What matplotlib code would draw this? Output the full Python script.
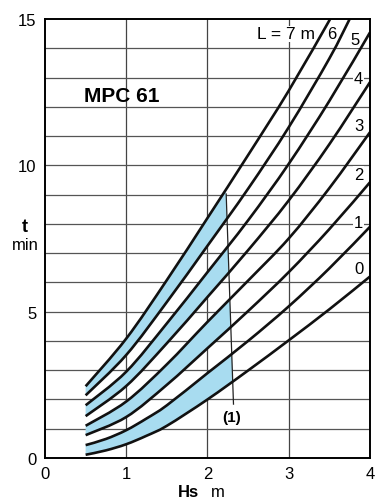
import matplotlib.pyplot as plt
import numpy as np
from matplotlib.patches import Polygon, PathPatch
from matplotlib.path import Path

plt.rcParams['font.family'] = ['Liberation Sans', 'DejaVu Sans']

# Hs (m) and time t (min), one curve per pipe length L
hs_01 = [0.5, 0.75, 1.0, 1.25, 1.5, 2.0, 2.5, 3.0, 3.5, 4.0]
t_L0 = [0.11, 0.26, 0.47, 0.76, 1.1, 2.0, 2.99, 4.02, 5.08, 6.2]
t_L1 = [0.44, 0.65, 0.95, 1.35, 1.8, 2.9, 4.0, 5.18, 6.48, 7.9]

hs_25 = [0.5, 1.0, 1.5, 2.0, 2.5, 3.0, 3.5, 4.0]
t_L2 = [0.78, 1.4, 2.5, 3.75, 5.02, 6.35, 7.82, 9.42]
t_L3 = [1.1, 1.93, 3.2, 4.65, 6.06, 7.5, 9.22, 11.13]
t_L4 = [1.43, 2.46, 3.92, 5.5, 7.1, 8.8, 10.72, 12.84]
t_L5 = [1.8, 2.95, 4.6, 6.35, 8.12, 10.05, 12.2, 14.54]

hs_6 = [0.5, 1.0, 1.5, 2.0, 2.5, 3.0, 3.5, 3.75]
t_L6 = [2.14, 3.52, 5.33, 7.25, 9.2, 11.3, 13.65, 15.0]
hs_7 = [0.5, 1.0, 1.5, 2.0, 2.5, 3.0, 3.51]
t_L7 = [2.45, 4.08, 6.08, 8.2, 10.35, 12.55, 15.0]

# limit line (1)
line1_hs = [2.23, 2.32]
line1_t = [9.02, 1.84]

curves = [(hs_01, t_L0), (hs_01, t_L1), (hs_25, t_L2), (hs_25, t_L3),
          (hs_25, t_L4), (hs_25, t_L5), (hs_6, t_L6), (hs_7, t_L7)]
label_txt = ['0', '1', '2', '3', '4', '5']
label_pos = [(3.86, 6.46), (3.86, 8.06), (3.86, 9.7), (3.86, 11.35), (3.86, 12.95), (3.82, 14.3)]


def smooth_verts(xs, ys):
    # catmull-rom through the points, as cubic bezier vertices
    p = np.column_stack([xs, ys]).astype(float)
    ext = np.vstack([p[0], p, p[-1]])
    verts = [p[0]]
    for i in range(len(p) - 1):
        a, b, c, d = ext[i], ext[i + 1], ext[i + 2], ext[i + 3]
        verts += [b + (c - a) / 6, c - (d - b) / 6, c]
    return verts


fig = plt.figure(figsize=(3.86, 5.02), dpi=100)
ax = fig.add_axes([0.1166, 0.0857, 0.8419, 0.8745])
ax.set_xlim(0, 4)
ax.set_ylim(0, 15)

# grid
for xv in range(1, 4):
    ax.axvline(xv, color='#444444', lw=0.9, zorder=0)
for yv in range(1, 15):
    ax.axhline(yv, color='#555555', lw=0.9, zorder=0)

# shaded bands, clipped left of line (1)
slope = (line1_hs[1] - line1_hs[0]) / (line1_t[1] - line1_t[0])
x_at0 = line1_hs[1] + (0 - line1_t[1]) * slope
x_at15 = line1_hs[1] + (15 - line1_t[1]) * slope
clip = Polygon([(0, 0), (x_at0, 0), (x_at15, 15), (0, 15)], closed=True,
               transform=ax.transData, facecolor='none', edgecolor='none')
ax.add_patch(clip)
for lo, hi in [(0, 1), (2, 3), (4, 5), (6, 7)]:
    vl = smooth_verts(*curves[lo])
    vh = smooth_verts(*curves[hi])[::-1]
    verts = vl + vh + [vl[0]]
    codes = ([Path.MOVETO] + [Path.CURVE4] * (len(vl) - 1) + [Path.LINETO]
             + [Path.CURVE4] * (len(vh) - 1) + [Path.CLOSEPOLY])
    pp = PathPatch(Path(verts, codes), facecolor='#a8dcf0', edgecolor='none', zorder=1)
    ax.add_patch(pp)
    pp.set_clip_path(clip)

ax.plot(line1_hs, line1_t, color='#222222', lw=0.9, zorder=2)

for xs, ts in curves:
    v = smooth_verts(xs, ts)
    codes = [Path.MOVETO] + [Path.CURVE4] * (len(v) - 1)
    ax.add_patch(PathPatch(Path(v, codes), facecolor='none', edgecolor='#111111',
                           lw=1.9, zorder=3, capstyle='butt'))

box = dict(facecolor='white', edgecolor='none', pad=0.5)
for s, (px, py) in zip(label_txt, label_pos):
    ax.text(px, py, s, fontsize=12, ha='center', va='center', zorder=1.5, bbox=box)
ax.text(3.32, 14.49, 'L = 7 m', fontsize=12.5, ha='right', va='center', zorder=1.5, bbox=box)
ax.text(3.53, 14.49, '6', fontsize=12, ha='center', va='center', zorder=1.5, bbox=box)
ax.text(2.3, 1.4, '(1)', fontsize=11, fontweight='bold', ha='center', va='center', zorder=4)
ax.text(0.94, 12.4, 'MPC 61', fontsize=15, fontweight='bold', ha='center', va='center', zorder=4)

for sp in ax.spines.values():
    sp.set_linewidth(1.4)
    sp.set_zorder(5)

ax.set_xticks([0, 1, 2, 3, 4])
ax.set_yticks([0, 5, 10, 15])
ax.tick_params(length=0, labelsize=12, pad=6)

fig.text(25 / 386, 1 - 232 / 502, 't', fontsize=13, fontweight='bold', ha='center', va='baseline')
fig.text(25 / 386, 1 - 250 / 502, 'min', fontsize=12, ha='center', va='baseline')
fig.text(188 / 386, 1 - 497 / 502, 'Hs', fontsize=12, fontweight='bold', ha='center', va='baseline')
fig.text(218 / 386, 1 - 497 / 502, 'm', fontsize=12, ha='center', va='baseline')

fig.savefig('out.png', dpi=100)
